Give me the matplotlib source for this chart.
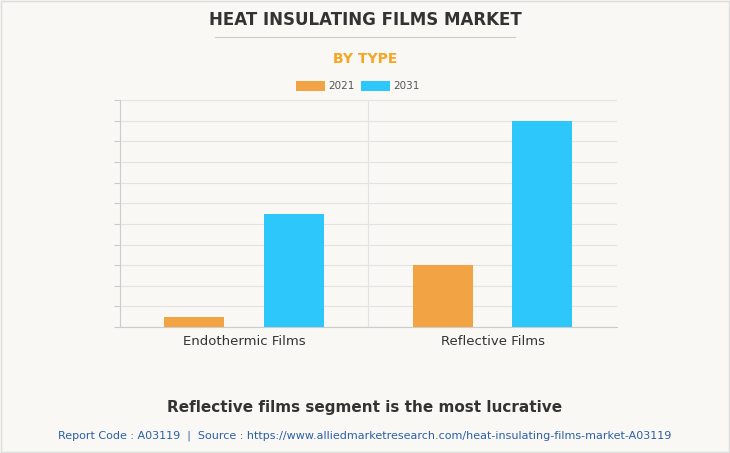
import matplotlib.pyplot as plt
import numpy as np

categories = ['Endothermic Films', 'Reflective Films']
series_names = ['2021', '2031']
values_2021 = [0.5, 3.0]
values_2031 = [5.5, 10.0]

fig = plt.figure(figsize=(7.3, 4.53), dpi=100)
bg = '#f9f8f4'
fig.patch.set_facecolor(bg)
fig.add_artist(plt.Rectangle((0.001, 0.002), 0.997, 0.996, transform=fig.transFigure,
                             fill=False, edgecolor='#dddddd', lw=1))

ax = fig.add_axes([0.164, 0.278, 0.681, 0.501])
ax.set_facecolor(bg)
x = np.arange(len(categories))
w = 0.24
ax.bar(x - 0.2, values_2021, w, color='#f2a444', zorder=3, label=series_names[0])
ax.bar(x + 0.2, values_2031, w, color='#2ec7fb', zorder=3, label=series_names[1])
ax.set_xlim(-0.5, 1.5)
ax.set_ylim(0, 11)
ax.set_yticks(np.arange(0, 12, 1))
ax.set_yticklabels([])
ax.tick_params(axis='y', length=4, color='#cccccc')
ax.tick_params(axis='x', length=0, labelsize=9.5, labelcolor='#333333', pad=6)
ax.set_xticks(x)
ax.set_xticklabels(categories)
ax.grid(axis='y', color='#e3e3e3', lw=0.8, zorder=0)
ax.axvline(0.5, color='#e3e3e3', lw=0.8, zorder=0)
for s in ['top', 'right']:
    ax.spines[s].set_visible(False)
ax.spines['left'].set_color('#cccccc')
ax.spines['bottom'].set_color('#cccccc')

fig.legend(loc='center', bbox_to_anchor=(0.49, 0.81), ncol=2, frameon=False,
           fontsize=7.5, handlelength=2.8, handleheight=1.1, columnspacing=0.6,
           handletextpad=0.3, labelcolor='#555555')

fig.text(0.5, 0.955, 'HEAT INSULATING FILMS MARKET', ha='center', va='center',
         fontsize=12, fontweight='bold', color='#333333')
fig.add_artist(plt.Line2D([0.295, 0.705], [0.918, 0.918], color='#cccccc', lw=0.8))
fig.text(0.5, 0.87, 'BY TYPE', ha='center', va='center', fontsize=10,
         fontweight='bold', color='#f5a623')
fig.text(0.5, 0.1, 'Reflective films segment is the most lucrative', ha='center',
         va='center', fontsize=11, fontweight='bold', color='#333333')
fig.text(0.5, 0.037, 'Report Code : A03119  |  Source : https://www.alliedmarketresearch.com/heat-insulating-films-market-A03119',
         ha='center', va='center', fontsize=8, color='#2a5fa8')

fig.savefig('out.png', dpi=100, facecolor=bg)
